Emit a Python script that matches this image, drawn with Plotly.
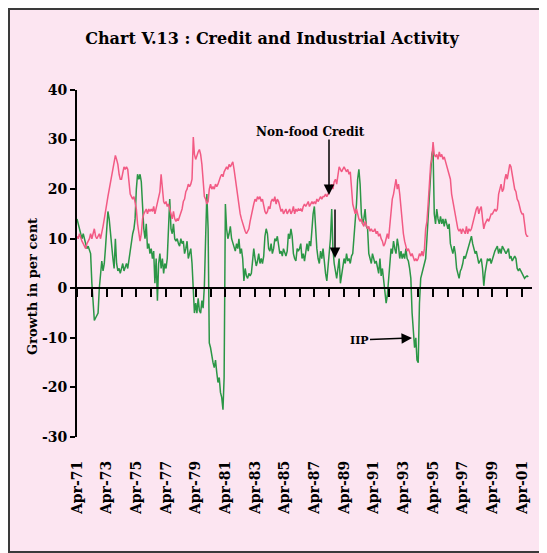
import pandas as pd
import plotly.graph_objects as go

# ---------------- data (monthly, Apr-1971 onward) ----------------
start_month = "1971-04-01"

credit = [
    10.5, 10, 11, 10, 9.5, 9, 8.5, 8, 9, 9.5, 10, 11,
    10, 11, 12, 10.5, 10, 10.5, 11, 10, 11, 12.5, 14, 16,
    17, 18.5, 20, 21, 22.5, 24, 25, 26.8, 26, 25, 23, 22,
    22, 23.5, 24.5, 24, 24.5, 24, 22, 19, 18.5, 18, 18.5, 17.5,
    16, 13, 10.5, 9.5, 11, 14, 15, 15.5, 16, 15, 16, 15.5,
    16, 15.5, 16.5, 15, 16, 17, 18, 19.5, 23, 20, 17.5, 17,
    17.5, 16.5, 17, 16, 15, 14, 15.5, 14, 13.5, 14, 13.8, 14.5,
    15, 16, 17.5, 18, 19.5, 20, 21, 20.5, 21, 22, 30.5, 27,
    26, 27, 27.5, 28, 27, 25, 22, 18.5, 18, 17, 17.5, 20,
    21, 20, 20.5, 20, 21, 20.5, 21, 22, 22.5, 23, 22.5, 23.5,
    24, 24.5, 24, 25, 24.5, 25, 25.5, 24, 22, 21, 19, 17,
    15, 14, 13, 12, 11.5, 11, 11.5, 12, 13.5, 15, 16, 17,
    18, 17.5, 18.5, 18, 18.5, 17.5, 18, 16.5, 15.5, 15, 15.5, 16.5,
    16, 17.5, 18, 17.5, 18.5, 17, 18, 17.5, 16.5, 15.5, 16, 15,
    15.5, 16, 15, 15.5, 16, 15, 15.5, 16.5, 15, 16, 15.5, 16,
    15.8, 16, 15.5, 16.5, 17, 16.5, 17, 17.5, 16.5, 17, 17.5, 17,
    17.5, 17, 18, 17.5, 18, 18.5, 18, 18.5, 18.5, 19, 18.5, 19,
    19.5, 20, 21, 20, 21.5, 22, 21, 22.5, 24.5, 24, 23.5, 24,
    24.5, 24, 23.5, 24, 23, 23.5, 19, 17, 16, 15, 16, 15,
    14, 13.5, 14, 13, 12.5, 13.5, 12.5, 12, 12.5, 11.5, 12, 11.5,
    11.5, 12, 11, 11.5, 10.5, 11, 10, 9.5, 8.5, 9, 10, 11,
    10, 13, 16, 18, 19, 20.5, 22, 20, 21, 19, 16, 13,
    11, 9.5, 8.5, 7.5, 8, 7, 6.5, 7, 6, 5.5, 6, 5.5,
    6, 7, 6.5, 7.5, 6.5, 8, 12, 13.5, 17, 22, 25, 26,
    29.5, 27, 26.5, 27, 26, 27.5, 26.5, 27, 26, 26.5, 25.5, 25,
    23.5, 22.5, 22, 19, 17.5, 16, 14.5, 13, 12, 11.5, 12, 11,
    12, 11.5, 11, 12.5, 11, 12, 11.5, 12, 13, 14, 15.5, 16,
    16.5, 15, 16, 16.5, 14, 12, 13, 13.5, 14, 13.5, 14.5, 15,
    15, 15.5, 16, 15.5, 16, 19, 20, 21, 19.5, 20, 22, 23,
    22, 23.5, 25, 24.5, 23, 21, 20, 19.5, 18, 17.5, 16, 15.5,
    15, 15, 13, 11, 10.5, 10.5,
]

iip = [
    14, 13, 12, 11.5, 10, 11, 10, 9, 8, 8.5, 7.5, 7,
    1, -4, -6.5, -6, -5.5, -5, 0, 4, 5.5, 3.5, 5, 8,
    12, 15.5, 14, 11, 8, 6, 4, 10, 5, 3.5, 4, 3,
    4, 5, 3.5, 4.5, 5, 4, 6, 8, 9.5, 11, 12, 14,
    20, 23, 22, 23, 21.5, 15, 12, 10, 13, 8, 9, 7,
    8, 6, 7.5, 1, 6, -2.5, 5, 7, 4, 6, 3, 5,
    4, 6, 14, 18, 12, 11, 13, 10, 9.5, 10, 9, 8.5,
    10, 9, 9.5, 7, 8, 9.5, 6, 7, 8, 5, -1, -5,
    -3, -5, -2, -4.5, -5, -2.5, -4, 0.5, 10, 19, 12, -11,
    -12, -14, -15, -16, -14.5, -17, -19, -18, -21, -22, -24.5, -18,
    17, 12, 10, 11, 12.5, 10, 9, 8, 7.5, 9, 8, 10,
    7, 8, 6, 1.5, 4, 2.5, 2, 3, 2.5, 3, 5, 8,
    6, 4.5, 5.5, 7, 5, 6, 5, 6.5, 10.5, 12, 11, 8,
    7.5, 9, 7, 8, 10, 9.5, 10.5, 9, 7, 7.5, 6.5, 8,
    7, 6.5, 7.5, 11, 10, 12, 10.5, 7, 6, 5.5, 8, 7.5,
    8, 9, 6, 7, 5.5, 8, 9, 7.5, 9.5, 8.5, 13, 15,
    16.5, 12, 8, 6, 5, 7.5, 6, 8, 5, 3, 1.5, 4,
    6, 10, 16, 8, 5, 3, 2, 4, 6, 1, 3, 5,
    6, 5, 7, 5.5, 6, 5, 6.5, 7, 10, 14, 17, 22,
    24, 21, 15, 13, 14, 16, 12.5, 12, 7, 6, 5, 7,
    6, 5, 5.5, 4, 3, 6, 2.5, 4, 2, -1, -3, -1.5,
    2, 6, 8, 7, 9.5, 8, 7, 10, 8.5, 6, 7.5, 6,
    7, 6, 8, 6, 5.5, 4, 2, -5, -8, -12, -10, -14.5,
    -15, -3, 2, 3, 4, 5, 6, 10, 15, 20, 23, 27,
    28, 15, 13, 16, 14, 13, 14.5, 13, 14, 12.5, 14, 13,
    12, 13, 9, 8, 7, 8.5, 7, 4, 3, 2, 3.5, 4,
    5, 6.5, 6, 7, 8, 9, 10, 10.5, 9, 8, 7, 7.5,
    6, 5, 5.5, 6, 4, 0.5, 3, 5, 6, 5.5, 6, 5,
    6, 7, 7.5, 8, 8.5, 7, 8, 7, 8.5, 8, 7.5, 7,
    7.5, 8, 6, 6.5, 5.5, 6, 6.5, 6, 4, 3.5, 4, 3.5,
    3, 2.5, 2, 2.3, 2.5, 2.3,
]

y_ticks = [-30, -20, -10, 0, 10, 20, 30, 40]
y_tick_labels = ["-30", "-20", "-10", "0", "10", "20", "30", "40"]

dates = pd.date_range(start_month, periods=len(credit), freq="MS")

title_text = "Chart V.13 : Credit and Industrial Activity"
y_title = "Growth in per cent"
credit_label = "Non-food Credit"
iip_label = "IIP"

# ---------------- layout constants ----------------
OFF = 8                      # browser body margin
W, H = 547 - OFF, 553 - OFF  # figure size
L, T = 77 - OFF, 90 - OFF
PLOT_R, PLOT_B = 532 - OFF, 437 - OFF
R, B = W - PLOT_R, H - PLOT_B
plot_w = PLOT_R - L
plot_h = PLOT_B - T
YMIN, YMAX = -30, 40


def px_x(p):  # page pixel -> paper fraction
    return (p - OFF - L) / plot_w


def px_y(p):
    return (PLOT_B - (p - OFF)) / plot_h


FONT = "DejaVu Serif"
RED = "#f25a84"
GREEN = "#2b9646"
BG = "#fce5f1"

fig = go.Figure()
fig.add_trace(go.Scatter(x=dates, y=credit, mode="lines", xaxis="x2", yaxis="y",
                         line=dict(color=RED, width=1.5), showlegend=False, hoverinfo="skip"))
fig.add_trace(go.Scatter(x=dates, y=iip, mode="lines", xaxis="x", yaxis="y",
                         line=dict(color=GREEN, width=1.5), showlegend=False, hoverinfo="skip"))

xr = [start_month, "2001-12-01"]

fig.update_layout(
    width=W, height=H, autosize=False,
    margin=dict(l=L, r=R, t=T, b=B),
    paper_bgcolor=BG,
    plot_bgcolor="rgba(0,0,0,0)",
    title=dict(text="<b>" + title_text + "</b>", x=(272 - OFF) / W, xanchor="center",
               y=1 - (38 - OFF) / H, yanchor="middle",
               font=dict(family=FONT, size=16, color="black")),
    xaxis=dict(type="date", range=xr, tickformat="%b-%y", tick0=start_month, dtick="M24",
               tickangle=-90, ticks="", showline=False, showgrid=False, zeroline=False,
               ticklabelstandoff=20,
               tickfont=dict(family=FONT, size=14, color="black", weight="bold")),
    xaxis2=dict(type="date", range=xr, overlaying="x", matches="x", anchor="free",
                position=(0 - YMIN) / (YMAX - YMIN),
                tick0=start_month, dtick="M12", ticks="outside", ticklen=8, tickwidth=1.5,
                tickcolor="black", showline=True, linecolor="black", linewidth=2,
                showticklabels=False, showgrid=False, zeroline=False),
    yaxis=dict(range=[YMIN, YMAX], tickvals=y_ticks, ticktext=y_tick_labels,
               ticks="outside", ticklen=5, tickwidth=1.5,
               tickcolor="black", showline=True, linecolor="black", linewidth=2,
               showgrid=False, zeroline=False,
               tickfont=dict(family=FONT, size=14, color="black", weight="bold")),
    shapes=[dict(type="rect", xref="paper", yref="paper",
                 x0=px_x(OFF + 1), x1=px_x(OFF + W - 1), y0=px_y(OFF + H - 1), y1=px_y(OFF + 1),
                 fillcolor="rgba(0,0,0,0)", line=dict(color="#3a3a3a", width=2), layer="below")],
    annotations=[
        dict(text="<b>" + y_title + "</b>", xref="paper", yref="paper",
             x=px_x(32), y=px_y(287), xanchor="center", yanchor="middle",
             textangle=-90, showarrow=False,
             font=dict(family=FONT, size=13, color="black")),
        dict(text="<b>" + credit_label + "</b>", xref="paper", yref="paper",
             x=px_x(310), y=px_y(123), showarrow=False,
             font=dict(family=FONT, size=12, color="black")),
        dict(text="", xref="paper", yref="paper", x=px_x(329), y=px_y(195),
             ax=0, ay=-57, showarrow=True, arrowhead=2, arrowsize=1.4, arrowwidth=1.5,
             arrowcolor="black"),
        dict(text="", xref="paper", yref="paper", x=px_x(335), y=px_y(258),
             ax=0, ay=-50, showarrow=True, arrowhead=2, arrowsize=1.4, arrowwidth=1.5,
             arrowcolor="black"),
        dict(text="<b>" + iip_label + "</b>", xref="paper", yref="paper",
             x=px_x(412), y=px_y(338), ax=-53, ay=2, showarrow=True, arrowhead=2,
             arrowsize=1.4, arrowwidth=1.5, arrowcolor="black",
             font=dict(family=FONT, size=11, color="black")),
    ],
)

fig.write_html("out.html")
